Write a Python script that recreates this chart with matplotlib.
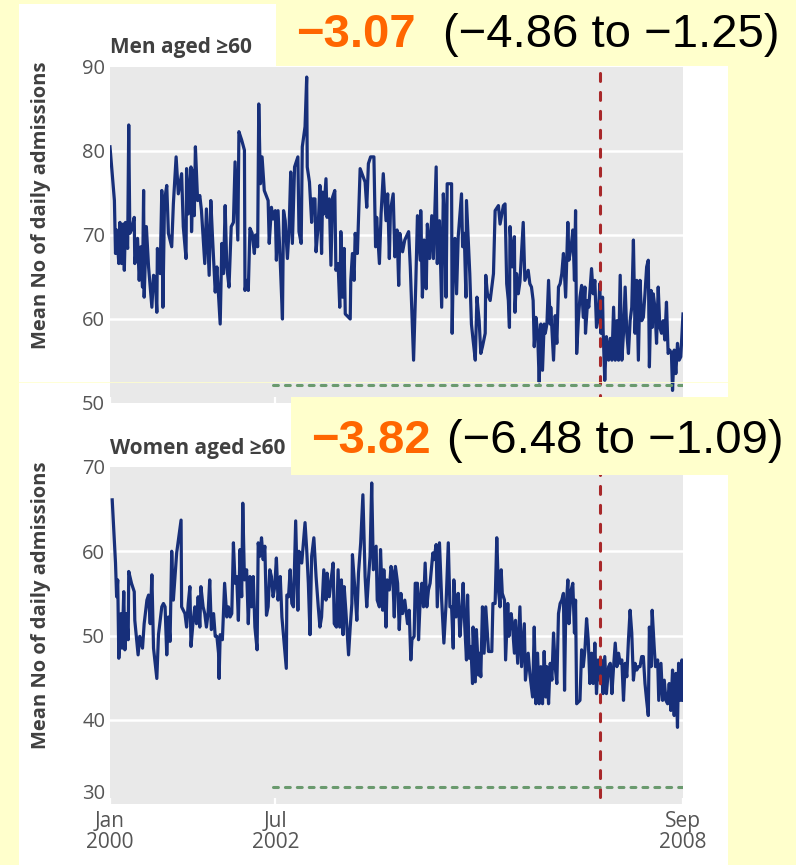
import matplotlib
matplotlib.use('Agg')
import matplotlib.pyplot as plt
from matplotlib.patches import Rectangle
from matplotlib.lines import Line2D

# mean number of daily admissions, time in months since Jan 2000
men_month = [
    0.0, 0.8, 1.0, 1.2, 1.6, 1.8, 2.1, 2.4, 2.6, 2.8,
    3.2, 3.4, 3.6, 3.9, 4.4, 4.5, 5.0, 5.3, 5.6, 5.9,
    6.1, 6.2, 6.6, 7.0, 7.6, 7.9, 8.2, 8.5, 8.6, 9.1,
    9.4, 9.6, 9.9, 10.3, 10.6, 11.2, 11.5, 12.0, 12.4, 13.0,
    13.3, 13.8, 13.9, 14.2, 14.7, 14.8, 15.1, 15.3, 15.5, 15.9,
    16.3, 16.6, 17.2, 17.5, 18.0, 18.3, 18.6, 19.1, 19.4, 20.0,
    20.3, 20.6, 20.9, 21.2, 21.6, 22.0, 22.4, 22.7, 23.2, 23.4,
    23.9, 24.4, 24.5, 24.8, 25.1, 25.4, 25.8, 26.2, 26.4, 26.8,
    27.0, 27.3, 27.6, 28.0, 28.7, 28.9, 29.3, 29.6, 30.0, 30.2,
    30.5, 30.9, 31.3, 31.5, 31.8, 32.2, 32.5, 32.8, 33.1, 33.5,
    34.1, 34.3, 34.7, 34.9, 35.4, 35.7, 35.8, 36.2, 36.6, 36.8,
    37.2, 37.4, 37.8, 38.1, 38.4, 38.6, 38.8, 39.2, 39.4, 39.8,
    40.1, 40.4, 40.8, 41.0, 41.4, 41.7, 41.9, 42.2, 42.5, 42.7,
    43.6, 43.7, 44.0, 44.3, 44.5, 44.9, 45.4, 46.3, 46.6, 46.9,
    47.3, 47.9, 48.2, 48.4, 48.9, 49.2, 49.6, 50.1, 50.4, 50.7,
    50.9, 51.4, 51.7, 52.1, 52.4, 52.6, 53.1, 53.5, 54.2, 54.5,
    55.1, 55.5, 55.8, 56.3, 56.4, 56.7, 57.0, 57.4, 57.6, 58.0,
    58.4, 58.7, 59.2, 59.4, 59.8, 60.2, 60.5, 60.8, 61.0, 61.2,
    62.0, 62.1, 62.3, 62.6, 62.9, 63.2, 63.8, 64.0, 64.3, 64.6,
    64.7, 65.3, 65.6, 65.9, 66.3, 66.6, 67.0, 67.3, 67.6, 68.1,
    68.2, 68.5, 69.0, 69.6, 69.9, 70.5, 70.8, 71.4, 71.7, 72.0,
    72.3, 72.5, 72.6, 73.0, 73.4, 73.5, 73.8, 74.1, 74.4, 75.0,
    75.3, 75.9, 76.2, 76.5, 76.8, 77.0, 77.3, 77.6, 77.9, 78.2,
    78.5, 78.8, 79.0, 79.3, 79.6, 79.9, 80.0, 80.5, 80.8, 81.1,
    81.4, 81.7, 82.0, 82.3, 82.7, 83.1, 83.3, 83.7, 84.0, 84.3,
    84.5, 84.7, 85.0, 85.3, 85.6, 85.9, 86.2, 86.3, 86.7, 86.9,
    87.4, 87.7, 88.0, 88.3, 88.6, 88.9, 89.1, 89.4, 89.5, 89.8,
    90.1, 90.5, 90.8, 91.1, 91.4, 91.7, 92.0, 92.3, 92.6, 92.9,
    93.2, 93.5, 93.8, 94.1, 94.4, 94.7, 95.0, 95.3, 95.6, 95.9,
    96.2, 96.5, 96.8, 97.1, 97.4, 97.7, 97.9, 98.2, 98.4, 98.6,
    98.9, 99.2, 99.5, 99.8, 100.1, 100.4, 100.7, 101.0, 101.3, 101.6,
    101.9, 102.1, 102.4, 102.7, 103.0, 103.3, 103.6, 104.0,
]
men_adm = [
    80.5, 74.1, 67.8, 70.6, 66.6, 71.5, 66.6, 71.3, 65.8, 71.5,
    68.4, 83.1, 70.2, 70.6, 72.1, 66.6, 69.6, 64.6, 68.6, 63.8,
    75.3, 62.6, 71.0, 66.2, 61.4, 65.2, 65.0, 60.8, 68.4, 65.4,
    75.3, 61.4, 74.1, 75.9, 70.2, 68.6, 73.7, 79.3, 74.9, 77.3,
    71.0, 67.2, 77.9, 72.5, 78.1, 70.4, 77.7, 72.3, 80.5, 74.1,
    74.7, 72.9, 66.6, 73.1, 65.2, 74.1, 69.8, 63.2, 66.2, 59.4,
    69.0, 65.4, 73.5, 66.2, 63.8, 71.0, 71.5, 78.7, 69.4, 82.3,
    81.3, 80.1, 63.4, 64.6, 63.4, 70.8, 70.2, 67.8, 70.0, 68.6,
    85.6, 76.1, 79.3, 75.3, 74.1, 69.0, 73.3, 71.9, 72.9, 67.0,
    72.9, 66.8, 60.0, 72.9, 71.7, 67.2, 70.6, 77.5, 69.0, 78.1,
    79.3, 70.4, 69.0, 80.5, 82.9, 88.8, 78.1, 76.3, 71.5, 74.3,
    74.3, 68.0, 71.3, 75.9, 67.8, 75.1, 72.5, 76.7, 72.1, 74.3,
    66.4, 74.5, 75.3, 65.8, 66.6, 61.4, 70.4, 62.6, 68.4, 60.6,
    60.0, 64.6, 67.8, 64.6, 70.2, 67.8, 77.9, 76.3, 73.3, 78.5,
    79.3, 79.3, 68.6, 72.1, 66.6, 72.5, 77.3, 71.7, 74.9, 67.2,
    72.9, 74.9, 67.4, 70.6, 64.0, 70.2, 68.0, 69.4, 70.4, 66.2,
    55.1, 64.2, 72.3, 67.0, 72.9, 62.6, 69.4, 63.6, 71.3, 67.2,
    72.3, 67.2, 78.1, 66.6, 71.7, 61.4, 74.9, 70.2, 62.6, 76.1,
    76.1, 58.3, 66.2, 69.6, 63.0, 69.8, 74.9, 68.6, 70.2, 62.6,
    74.1, 65.4, 59.4, 57.5, 55.1, 62.6, 59.8, 55.9, 56.7, 58.3,
    65.2, 63.0, 62.2, 65.4, 72.9, 73.5, 71.3, 73.5, 73.7, 64.2,
    62.2, 59.0, 71.0, 66.2, 69.8, 60.8, 65.4, 63.0, 64.4, 71.5,
    64.6, 65.8, 64.2, 63.8, 62.2, 56.7, 60.2, 58.6, 52.5, 59.4,
    53.9, 59.4, 58.3, 59.4, 64.6, 59.4, 61.4, 55.1, 60.4, 57.1,
    63.8, 64.2, 65.4, 67.8, 62.6, 71.5, 67.0, 68.6, 70.6, 64.6,
    72.9, 55.9, 59.8, 62.6, 64.0, 60.2, 63.8, 58.3, 62.2, 61.4,
    66.0, 63.0, 64.6, 59.0, 60.0, 64.2, 58.3, 62.6, 58.7, 52.7,
    57.9, 55.1, 57.7, 55.1, 61.4, 55.1, 59.8, 55.1, 65.2, 55.1,
    58.3, 63.8, 58.3, 55.9, 59.8, 61.4, 69.4, 58.3, 64.6, 55.1,
    64.6, 59.8, 60.2, 63.0, 66.2, 67.0, 54.3, 63.4, 59.0, 63.0,
    61.4, 57.1, 63.8, 59.0, 58.3, 59.8, 57.5, 62.0, 55.9, 56.3,
    55.9, 51.5, 56.3, 53.5, 57.1, 55.1, 55.5, 60.6,
]

women_month = [
    0.4, 1.0, 1.2, 1.4, 1.6, 2.0, 2.2, 2.5, 2.7, 3.0,
    3.3, 3.4, 3.9, 4.4, 4.5, 5.1, 5.4, 5.9, 6.2, 6.7,
    7.0, 7.3, 7.6, 7.9, 8.5, 8.8, 9.4, 9.7, 10.0, 10.3,
    10.6, 10.9, 11.2, 11.5, 12.1, 12.9, 13.0, 13.6, 13.9, 14.2,
    14.5, 14.7, 15.1, 15.4, 15.7, 16.0, 16.3, 16.5, 16.9, 17.2,
    17.5, 17.8, 18.1, 18.4, 18.8, 19.1, 19.4, 19.7, 19.8, 20.0,
    20.4, 20.8, 21.2, 21.5, 21.8, 22.1, 22.4, 22.7, 23.0, 23.3,
    23.6, 23.9, 24.1, 24.4, 24.8, 25.1, 25.4, 25.7, 26.0, 26.3,
    26.7, 26.9, 27.2, 27.5, 27.8, 28.1, 28.4, 28.7, 29.0, 29.3,
    29.6, 29.9, 30.2, 30.5, 30.9, 31.2, 31.6, 32.0, 32.1, 32.4,
    32.7, 33.0, 33.3, 33.7, 34.1, 34.3, 34.8, 35.4, 35.7, 36.0,
    36.3, 36.6, 37.0, 37.4, 37.8, 38.1, 38.4, 38.8, 39.2, 39.4,
    39.8, 40.2, 40.5, 40.7, 41.1, 41.4, 41.7, 42.0, 42.3, 42.5,
    42.8, 43.3, 43.6, 43.9, 44.0, 44.5, 44.8, 45.1, 45.5, 45.9,
    46.3, 46.6, 46.9, 47.2, 47.5, 47.8, 48.3, 48.5, 48.9, 49.1,
    49.5, 49.7, 50.1, 50.3, 50.7, 51.0, 51.3, 51.6, 51.8, 52.2,
    52.5, 52.8, 53.1, 53.5, 54.0, 54.3, 54.6, 54.8, 55.2, 55.4,
    55.8, 56.0, 56.3, 56.6, 56.9, 57.2, 57.5, 57.8, 58.1, 58.6,
    58.8, 59.2, 59.4, 59.8, 60.2, 60.6, 61.0, 61.4, 61.7, 62.0,
    62.3, 62.4, 62.8, 63.2, 63.5, 63.8, 64.1, 64.4, 64.7, 64.9,
    65.2, 65.5, 65.8, 65.9, 66.3, 66.5, 66.9, 67.0, 67.3, 67.6,
    67.9, 68.2, 68.7, 69.3, 69.5, 69.9, 70.2, 70.5, 70.8, 71.0,
    71.2, 71.6, 71.8, 72.2, 72.4, 72.8, 73.0, 73.4, 73.6, 74.0,
    74.4, 74.7, 75.2, 75.4, 75.9, 76.2, 76.7, 77.0, 77.3, 77.6,
    77.9, 78.2, 78.5, 78.8, 79.1, 79.3, 79.6, 79.9, 80.2, 80.5,
    80.8, 81.1, 81.4, 81.7, 82.0, 82.3, 82.5, 82.7, 83.1, 83.3,
    83.7, 84.0, 84.3, 84.5, 84.7, 85.3, 85.6, 85.9, 86.2, 86.5,
    86.8, 87.1, 87.4, 87.7, 88.0, 88.3, 88.6, 88.9, 89.2, 89.5,
    89.8, 90.1, 90.5, 90.8, 91.1, 91.4, 91.7, 92.0, 92.3, 92.6,
    92.9, 93.2, 93.5, 93.8, 94.1, 94.4, 94.7, 95.0, 95.3, 95.6,
    95.9, 96.2, 96.5, 96.8, 97.1, 97.4, 97.7, 97.9, 98.2, 98.4,
    98.8, 99.0, 99.4, 99.6, 100.0, 100.3, 100.6, 100.9, 101.2, 101.5,
    101.8, 102.1, 102.4, 102.7, 103.0, 103.2, 103.5, 103.8, 104.0,
]
women_adm = [
    66.1, 58.6, 54.6, 56.6, 47.3, 52.6, 48.5, 55.2, 48.3, 52.6,
    49.5, 57.6, 56.2, 55.2, 51.8, 47.7, 49.9, 48.5, 51.4, 54.2,
    54.8, 51.4, 57.2, 48.5, 44.9, 50.1, 53.4, 53.8, 53.4, 47.7,
    52.2, 49.3, 60.0, 54.2, 59.8, 63.7, 53.4, 52.6, 51.0, 53.8,
    55.8, 48.7, 51.8, 53.4, 51.4, 54.6, 51.0, 55.8, 53.4, 52.6,
    51.0, 52.6, 56.6, 50.7, 52.6, 49.9, 49.9, 47.9, 44.9, 50.1,
    49.5, 56.2, 52.2, 53.4, 52.2, 52.6, 61.0, 56.2, 57.0, 51.8,
    60.2, 54.6, 65.7, 56.6, 57.8, 51.4, 57.0, 53.4, 57.0, 51.0,
    48.3, 61.0, 59.4, 61.6, 59.0, 60.6, 52.4, 53.4, 57.8, 57.0,
    54.6, 55.8, 59.2, 54.2, 57.0, 52.2, 49.1, 46.1, 54.8, 54.6,
    57.8, 53.8, 53.4, 63.6, 53.0, 60.0, 58.6, 63.4, 60.2, 56.2,
    50.1, 59.4, 61.6, 57.0, 53.4, 51.0, 52.2, 57.8, 54.2, 57.4,
    54.6, 57.0, 58.6, 51.4, 51.0, 57.8, 51.0, 56.6, 50.1, 55.8,
    53.0, 47.7, 51.0, 53.8, 59.6, 55.0, 51.8, 57.4, 61.0, 66.7,
    57.0, 53.4, 56.6, 59.4, 68.1, 57.8, 60.6, 54.2, 53.4, 60.2,
    53.0, 57.8, 51.0, 56.6, 55.4, 58.2, 57.4, 52.2, 58.2, 56.2,
    50.7, 55.0, 52.6, 54.2, 51.4, 53.0, 47.1, 49.5, 49.9, 56.2,
    56.2, 49.5, 54.2, 56.2, 53.4, 58.6, 53.4, 55.4, 56.2, 59.8,
    59.0, 60.8, 53.4, 61.0, 54.2, 49.1, 53.8, 61.0, 53.4, 53.4,
    48.5, 56.6, 52.2, 55.0, 49.9, 52.6, 56.2, 51.0, 47.1, 54.8,
    47.3, 48.7, 44.3, 51.0, 44.5, 50.7, 45.3, 47.9, 45.1, 53.4,
    47.9, 53.4, 48.1, 48.1, 53.8, 53.8, 61.6, 55.4, 53.4, 57.8,
    55.0, 54.2, 47.1, 53.8, 49.9, 52.6, 51.6, 47.9, 51.8, 46.7,
    53.4, 46.3, 51.4, 44.7, 47.9, 45.5, 42.7, 51.0, 41.9, 47.9,
    41.9, 46.3, 41.9, 48.1, 42.7, 46.3, 41.9, 46.7, 44.7, 50.3,
    46.3, 44.3, 52.6, 53.8, 54.2, 55.0, 43.5, 52.2, 56.6, 51.4,
    55.4, 56.2, 50.3, 54.2, 41.9, 42.3, 48.3, 46.3, 48.3, 52.0,
    49.5, 44.3, 47.9, 44.3, 49.1, 43.1, 47.1, 44.7, 47.1, 43.1,
    47.5, 43.1, 46.3, 46.7, 43.1, 46.3, 49.1, 46.3, 47.9, 46.7,
    47.1, 42.3, 46.7, 45.1, 49.5, 53.0, 50.3, 44.7, 46.7, 45.9,
    46.3, 46.3, 47.5, 47.5, 44.3, 42.3, 40.5, 51.0, 46.3, 53.0,
    48.3, 46.3, 47.1, 42.3, 46.7, 42.3, 44.7, 42.3, 41.9, 44.3,
    41.1, 45.9, 40.5, 45.5, 39.1, 46.7, 42.3, 47.1, 42.3,
]

panel_titles = ['Men aged ≥60', 'Women aged ≥60']
y_ranges = [(50, 90), (30, 70)]
y_ticks = [[50, 60, 70, 80, 90], [30, 40, 50, 60, 70]]
x_ticks = [0, 30, 104]
x_labels = ['Jan\n2000', 'Jul\n2002', 'Sep\n2008']
ban_month = 88.9             # smoke-free legislation
study_span = (29.5, 104.0)   # analysed period
study_level = [52.1, 32.0]
effects = ['−3.07', '−3.82']
intervals = ['(−4.86 to −1.25)', '(−6.48 to −1.09)']

W, H = 796, 865
BG = '#FFFFCC'
sans = ['Open Sans', 'DejaVu Sans']
arial = ['Liberation Sans', 'DejaVu Sans']


def fx(px):
    return px / W


def fy(py):
    return 1 - py / H


fig = plt.figure(figsize=(W / 100, H / 100), dpi=100, facecolor=BG)

# white sheet behind both panels
fig.add_artist(Rectangle((fx(19), 0), fx(728) - fx(19), fy(4), transform=fig.transFigure,
                         facecolor='white', edgecolor='none', zorder=-5))

ax1 = fig.add_axes([fx(110), fy(403), fx(683) - fx(110), fy(67) - fy(403)])
ax2 = fig.add_axes([fx(110), fy(804), fx(683) - fx(110), fy(467) - fy(804)])

series = [(men_month, men_adm), (women_month, women_adm)]
for i, ax in enumerate([ax1, ax2]):
    ax.set_facecolor('#E9E9E9')
    for s in ax.spines.values():
        s.set_visible(False)
    ax.set_xlim(0, 104)
    ax.set_ylim(*y_ranges[i])
    for v in y_ticks[i][1:-1]:
        ax.axhline(v, color='white', lw=1.8, zorder=1)
    ax.set_yticks(y_ticks[i])
    ax.set_yticklabels([str(v) for v in y_ticks[i]], family=sans, fontsize=14.5, color='#555555')
    ax.tick_params(axis='y', length=0, pad=3.5)
    ax.set_xticks(x_ticks)
    ax.tick_params(axis='x', direction='in', length=4.5, width=1.6, color='white', pad=5)
    if i == 1:
        ax.set_xticklabels(x_labels, family=sans, fontsize=15, color='#555555', linespacing=1.0)
        # lowest value label sits just above the axis floor
        ax.get_yticklabels()[0].set_va('bottom')
    else:
        ax.set_xticklabels([])

    months, adm = series[i]
    ax.plot(months, adm, color='#172F7A', lw=2.3, solid_joinstyle='round', zorder=3)

    ax.axvline(ban_month, ymin=0 if i == 0 else 0.02, color='#A8282A', lw=2.2,
               dashes=(2.6, 3.6), dash_capstyle='round', zorder=4)
    ax.plot(study_span, [study_level[i]] * 2, color='#6A9A6E', lw=2.2,
            dashes=(1.6, 2.3), dash_capstyle='round', zorder=4)

# panel titles and axis labels
fig.text(fx(110), fy(53), panel_titles[0], family=sans, fontsize=15, fontweight='bold',
         color='#404040', va='baseline')
fig.text(fx(110), fy(454), panel_titles[1], family=sans, fontsize=15, fontweight='bold',
         color='#404040', va='baseline')
for cy in [205, 605]:
    fig.text(fx(41), fy(cy), 'Mean No of daily admissions', rotation=90, family=sans,
             fontsize=14.5, fontweight='bold', color='#404040', ha='center', va='center')

# faint seam between the two panels
fig.add_artist(Line2D([fx(19), fx(728)], [fy(382)] * 2, transform=fig.transFigure,
                      color=BG, lw=0.7, alpha=0.8, zorder=2))

# effect estimates with 95% intervals
fig.add_artist(Rectangle((fx(276), fy(66)), 1 - fx(276), 1 - fy(66), transform=fig.transFigure,
                         facecolor=BG, edgecolor='none', zorder=5))
fig.add_artist(Rectangle((fx(291), fy(475)), 1 - fx(291), fy(397) - fy(475),
                         transform=fig.transFigure, facecolor=BG, edgecolor='none', zorder=5))
for (ex, ix, by), eff, ci in zip([(296, 443, 47), (311, 447, 453)], effects, intervals):
    fig.text(fx(ex), fy(by), eff, family=arial, fontsize=34, fontweight='bold',
             color='#FF6600', va='baseline', zorder=6)
    fig.text(fx(ix), fy(by), ci, family=arial, fontsize=34, color='black',
             va='baseline', zorder=6)

fig.savefig('out.png', dpi=100, facecolor=BG)
